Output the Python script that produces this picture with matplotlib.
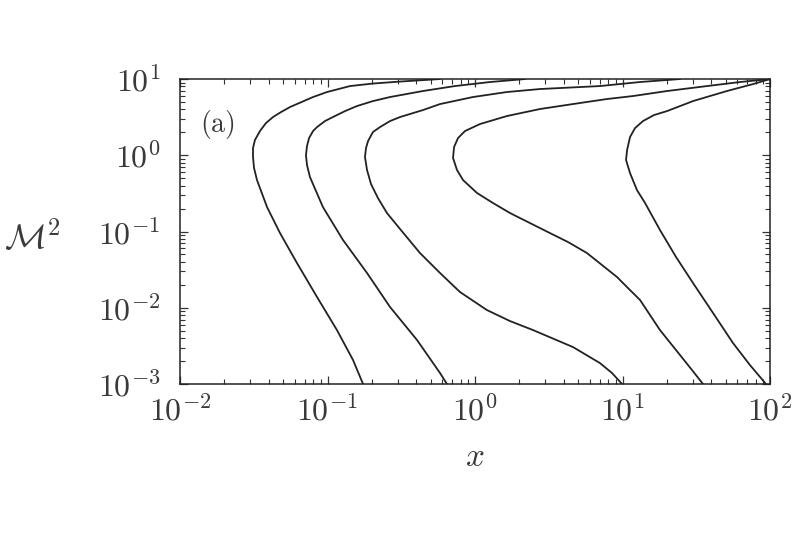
import numpy as np
import matplotlib
matplotlib.use("Agg")
import matplotlib.pyplot as plt
from matplotlib.ticker import LogLocator, FuncFormatter, NullFormatter

plt.rcParams['mathtext.fontset'] = 'cm'
plt.rcParams['font.family'] = ['DejaVu Serif']

# Curves, as (log10 x, log10 M^2)
c1_lx = [-0.759, -0.827, -0.936, -1.071, -1.207, -1.322, -1.410, -1.478, -1.498, -1.505,
         -1.505, -1.492, -1.458, -1.417, -1.369, -1.315, -1.254, -1.098, -1.003, -0.847,
         -0.692, -0.508, -0.237]
c1_ly = [-3.000, -2.685, -2.292, -1.859, -1.413, -1.020, -0.679, -0.325, -0.167, -0.023,
         0.095, 0.200, 0.318, 0.423, 0.502, 0.567, 0.633, 0.764, 0.830, 0.908,
         0.941, 0.967, 1.000]

c2_lx = [-0.190, -0.237, -0.393, -0.576, -0.732, -0.895, -1.031, -1.119, -1.139, -1.146,
         -1.139, -1.125, -1.098, -1.071, -1.017, -0.963, -0.881, -0.800, -0.692, -0.576,
         -0.353, -0.136, 0.102, 0.339]
c2_ly = [-3.000, -2.856, -2.423, -1.990, -1.544, -1.111, -0.679, -0.285, -0.128, 0.003,
         0.121, 0.226, 0.318, 0.370, 0.449, 0.502, 0.580, 0.646, 0.711, 0.764,
         0.843, 0.908, 0.961, 1.000]

c3_lx = [0.997, 0.929, 0.847, 0.664, 0.393, 0.237, 0.081, -0.102, -0.237, -0.373,
         -0.508, -0.597, -0.658, -0.705, -0.732, -0.746, -0.739, -0.725, -0.692, -0.644,
         -0.576, -0.508, -0.353, -0.237, -0.014, 0.217, 0.441, 0.847, 1.119, 1.390]
c3_ly = [-3.000, -2.856, -2.725, -2.515, -2.292, -2.174, -2.030, -1.793, -1.544, -1.282,
         -0.967, -0.757, -0.561, -0.377, -0.193, -0.023, 0.095, 0.187, 0.305, 0.370,
         0.449, 0.502, 0.593, 0.672, 0.764, 0.830, 0.869, 0.908, 0.961, 1.000]

c4_lx = [1.546, 1.471, 1.390, 1.254, 1.119, 1.037, 0.963, 0.759, 0.631, 0.508,
         0.237, 0.122, 0.014, -0.081, -0.122, -0.149, -0.142, -0.115, -0.068, 0.034,
         0.217, 0.441, 0.664, 0.895, 1.071, 1.302, 1.573, 1.797, 2.000]
c4_ly = [-3.000, -2.816, -2.620, -2.292, -1.898, -1.741, -1.597, -1.282, -1.138, -1.020,
         -0.757, -0.626, -0.495, -0.325, -0.193, -0.036, 0.108, 0.226, 0.318, 0.410,
         0.515, 0.607, 0.672, 0.738, 0.777, 0.843, 0.908, 0.961, 1.000]

c5_lx = [1.973, 1.864, 1.749, 1.614, 1.478, 1.363, 1.254, 1.153, 1.098, 1.051,
         1.024, 1.031, 1.051, 1.085, 1.139, 1.214, 1.302, 1.478, 1.708, 1.885, 2.000]
c5_ly = [-3.000, -2.751, -2.462, -2.069, -1.675, -1.334, -0.980, -0.626, -0.456, -0.233,
         -0.062, 0.069, 0.239, 0.357, 0.449, 0.528, 0.580, 0.711, 0.843, 0.934, 1.000]

curves = [(c1_lx, c1_ly), (c2_lx, c2_ly), (c3_lx, c3_ly), (c4_lx, c4_ly), (c5_lx, c5_ly)]

x_ticks = [1e-2, 1e-1, 1e0, 1e1, 1e2]
y_ticks = [1e-3, 1e-2, 1e-1, 1e0, 1e1]
panel_label = r'$\mathrm{(a)}$'
x_label = r'$x$'
y_label = r'$\mathcal{M}^2$'

fig = plt.figure(figsize=(8, 5.33), dpi=100)
ax = fig.add_axes([0.225, 0.2795, 0.7375, 0.5722])

for lx, ly in curves:
    ax.plot(10.0 ** np.array(lx), 10.0 ** np.array(ly), color='#222222', lw=1.3,
            solid_joinstyle='round', solid_capstyle='round')

ax.set_xscale('log')
ax.set_yscale('log')
ax.set_xlim(1e-2, 1e2)
ax.set_ylim(1e-3, 1e1)

ax.xaxis.set_minor_locator(LogLocator(base=10, subs=np.arange(2, 10), numticks=20))
ax.yaxis.set_minor_locator(LogLocator(base=10, subs=np.arange(2, 10), numticks=20))
ax.xaxis.set_minor_formatter(NullFormatter())
ax.yaxis.set_minor_formatter(NullFormatter())

fmt = FuncFormatter(lambda v, p: r'$\mathrm{10^{%d}}$' % int(round(np.log10(v))))
ax.set_xticks(x_ticks)
ax.set_yticks(y_ticks)
ax.xaxis.set_major_formatter(fmt)
ax.yaxis.set_major_formatter(fmt)

ax.tick_params(which='both', direction='in', top=True, right=True, colors='#333333')
ax.tick_params(which='major', length=6, width=0.9, labelsize=23, labelcolor='#3a3a3a')
ax.tick_params(which='minor', length=3.5, width=0.8)
ax.tick_params(axis='x', which='major', pad=8)
ax.tick_params(axis='y', which='major', pad=14)

for s in ax.spines.values():
    s.set_linewidth(1.1)
    s.set_color('#222222')

ax.set_xlabel(x_label, fontsize=24, color='#3a3a3a', labelpad=10)
ax.set_ylabel(y_label, fontsize=25, color='#3a3a3a', rotation=0, ha='center', va='center')
ax.yaxis.set_label_coords(-0.25, 0.48)

ax.text(0.063, 0.85, panel_label, transform=ax.transAxes, fontsize=20,
        color='#3a3a3a', ha='center', va='center')

fig.savefig('out.png', dpi=100)
